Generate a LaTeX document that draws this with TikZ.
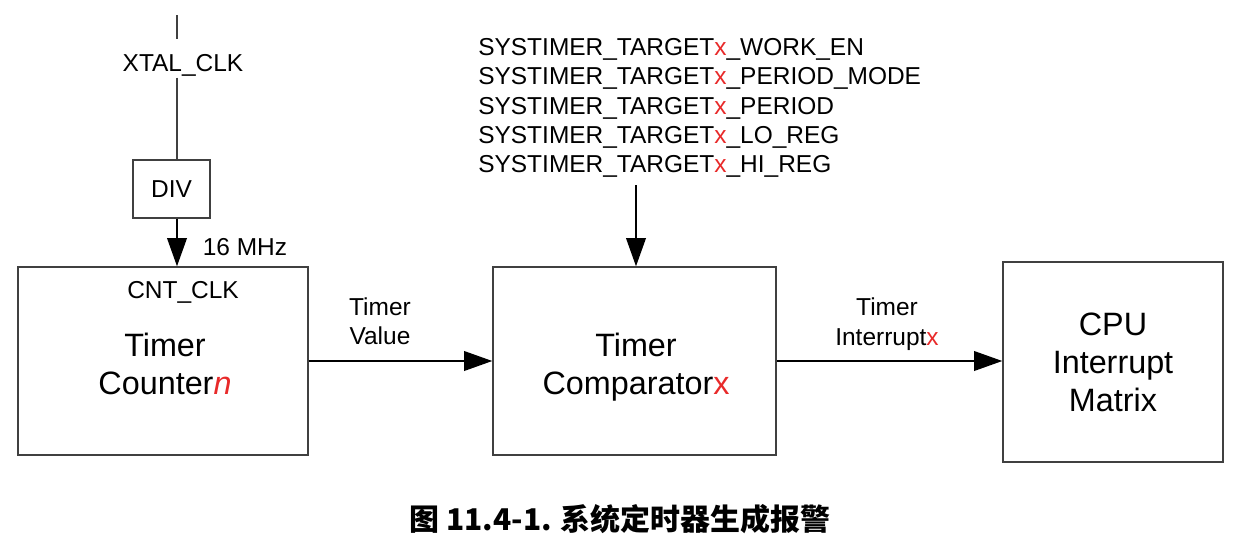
\documentclass[tikz,border=0pt]{standalone}
\usepackage{fontspec}
\setmainfont{Liberation Sans}
\newfontfamily\cjkfont{Noto Sans CJK SC}
\usetikzlibrary{arrows.meta}
\definecolor{varred}{RGB}{232,42,42}
\newcommand{\vx}{\textcolor{varred}{x}}

\begin{document}
\begin{tikzpicture}[x=0.025cm,y=-0.025cm,
  blk/.style={draw=black!75, line width=1pt, inner sep=0pt},
  sig/.style={draw=black, line width=1pt, -{Triangle[length=20pt,width=14pt]}},
  small/.style={font=\fontsize{17.4}{20.9}\selectfont, align=center, inner sep=1pt},
  big/.style={font=\fontsize{23}{27}\selectfont, align=center}]
\useasboundingbox (0,0) rectangle (1235,540);

% clock path
\coordinate (xtaltop) at (177,15);
\node[small] (xtal) at (183,65) {XTAL\_CLK};
\node[blk, minimum width=1.925cm, minimum height=1.45cm, font=\fontsize{17.4}{20.9}\selectfont] (div) at (171.5,189) {DIV};
\draw[blk] (xtaltop) -- ++(0,24);
\draw[blk] (xtal.south -| xtaltop) -- (div.north -| xtaltop);
\node[small] (mhz) at (245,247) {16 MHz};

% blocks
\node[blk, minimum width=7.25cm, minimum height=4.7cm] (cnt) at (163,361) {};
\node[big] (cnttxt) at (165,364) {Timer\\Counter{\itshape\textcolor{varred}{n}}};
\node[small] (cntclk) at (183,292) {CNT\_CLK};
\node[blk, minimum width=7.075cm, minimum height=4.7cm] (cmp) at (634.5,361) {};
\node[big] (cmptxt) at (636,367) {Timer\\Comparator\vx};
\node[blk, big, minimum width=5.5cm, minimum height=5cm] (cpu) at (1113,362) {CPU\\Interrupt\\Matrix};

% registers
\node[small, align=left, anchor=north west, inner sep=0pt] (regs) at (478,38) {%
SYSTIMER\_TARGET\vx\_WORK\_EN\\
SYSTIMER\_TARGET\vx\_PERIOD\_MODE\\
SYSTIMER\_TARGET\vx\_PERIOD\\
SYSTIMER\_TARGET\vx\_LO\_REG\\
SYSTIMER\_TARGET\vx\_HI\_REG};
\coordinate (regout) at (636,185);

% signals
\draw[sig] (div.south -| xtaltop) -- (cnt.north -| xtaltop);
\draw[sig] (regout) -- (regout |- cmp.north);
\draw[sig] (cnt.east) -- (cmp.west);
\node[small] (tval) at (380,321) {Timer\\Value};
\draw[sig] (cmp.east) -- (cmp.east -| cpu.west);
\node[small] (tint) at (887,324) {Timer\\Interrupt\vx};

% caption
\node[font=\cjkfont\bfseries\fontsize{21.3}{25}\selectfont] (cap) at (620,519) {图 11.4-1. 系统定时器生成报警};
\end{tikzpicture}
\end{document}
